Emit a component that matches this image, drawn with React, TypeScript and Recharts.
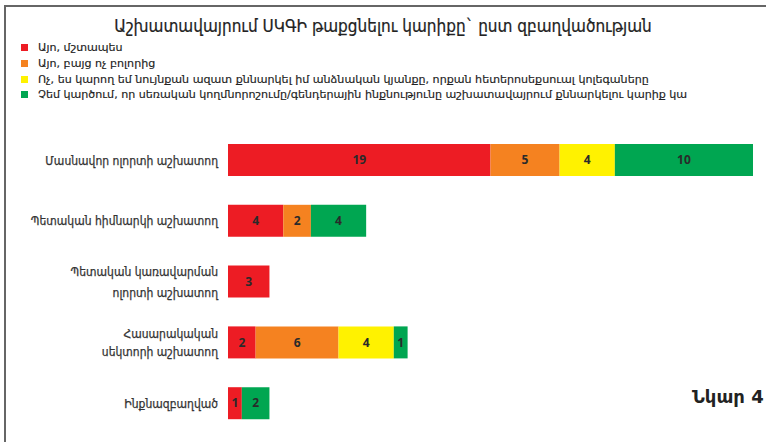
import { Bar, BarChart, LabelList, XAxis, YAxis } from "recharts";

const categories = [
  "Մասնավոր ոլորտի աշխատող",
  "Պետական հիմնարկի աշխատող",
  "Պետական կառավարման\nոլորտի աշխատող",
  "Հասարակական\nսեկտորի աշխատող",
  "Ինքնազբաղված",
];

const seriesNames = [
  "Այո, մշտապես",
  "Այո, բայց ոչ բոլորից",
  "Ոչ, ես կարող եմ նույնքան ազատ քննարկել իմ անձնական կյանքը, որքան հետերոսեքսուալ կոլեգաները",
  "Չեմ կարծում, որ սեռական կողմնորոշումը/գենդերային ինքնությունը աշխատավայրում քննարկելու կարիք կա",
];

const alwaysValues = [19, 4, 3, 2, 1];
const notAllValues = [5, 2, 0, 6, 0];
const freeValues = [4, 0, 0, 4, 0];
const noNeedValues = [10, 4, 0, 1, 2];

const colors = ["#ed1c24", "#f58220", "#fff200", "#00a651"];
const keys = ["always", "notAll", "free", "noNeed"];

const data = categories.map((name, i) => ({
  name,
  always: alwaysValues[i],
  notAll: notAllValues[i],
  free: freeValues[i],
  noNeed: noNeedValues[i],
}));

const labelFont = "'DejaVu Sans', sans-serif";
const condensedFont = "'DejaVu Sans Condensed', 'DejaVu Sans', sans-serif";

function CategoryTick(props: any) {
  const { x, y, payload } = props;
  const lines = String(payload.value).split("\n");
  const gap = lines.length > 1 && payload.value.startsWith("Պետական") ? 21 : 18;
  const start = y - ((lines.length - 1) * gap) / 2;
  return (
    <text
      x={x - 2}
      y={start}
      textAnchor="end"
      fill="#333"
      stroke="#333"
      strokeWidth={0.25}
      fontSize={12}
      fontFamily={condensedFont}
    >
      {lines.map((line, i) => (
        <tspan key={i} x={x - 2} y={start + i * gap} dy="0.35em">
          {line}
        </tspan>
      ))}
    </text>
  );
}

function ValueLabel(props: any) {
  const { x, y, width, height, value } = props;
  if (!value) return null;
  return (
    <text
      x={x + width / 2}
      y={y + height / 2}
      dy="0.35em"
      textAnchor="middle"
      fill="#2a2a2a"
      fontSize={12}
      fontWeight="bold"
      fontFamily="'Open Sans', sans-serif"
    >
      {value}
    </text>
  );
}

export default function App() {
  return (
    <div
      style={{
        position: "fixed",
        left: 0,
        top: 0,
        width: 766,
        height: 442,
        background: "#fff",
        overflow: "hidden",
      }}
    >
      <div
        style={{
          position: "absolute",
          left: 4,
          top: 5,
          width: 762,
          height: 437,
          borderTop: "2px solid #666",
          borderLeft: "2px solid #666",
        }}
      />
      <div
        style={{
          position: "absolute",
          left: 0,
          top: 16,
          width: 766,
          textAlign: "center",
          fontFamily: condensedFont,
          fontSize: 17,
          color: "#222",
          WebkitTextStroke: "0.2px #222",
        }}
      >
        Աշխատավայրում ՍԿԳԻ թաքցնելու կարիքը` ըստ զբաղվածության
      </div>
      <div
        style={{
          position: "absolute",
          left: 21,
          top: 40,
          fontFamily: labelFont,
          fontSize: 11.1,
          color: "#222",
          WebkitTextStroke: "0.15px #222",
        }}
      >
        {seriesNames.map((s, i) => (
          <div key={s} style={{ display: "flex", alignItems: "center", height: 15.7 }}>
            <span style={{ width: 7, height: 7, background: colors[i], marginRight: 10, flexShrink: 0 }} />
            <span style={{ whiteSpace: "nowrap" }}>{s}</span>
          </div>
        ))}
      </div>
      <div style={{ position: "absolute", left: 0, top: 0 }}>
        <BarChart
          width={766}
          height={442}
          data={data}
          layout="vertical"
          margin={{ top: 130, right: 13, bottom: 8, left: 0 }}
          barSize={32}
        >
          <XAxis type="number" domain={[0, 38]} hide />
          <YAxis
            type="category"
            dataKey="name"
            width={228}
            axisLine={false}
            tickLine={false}
            tick={<CategoryTick />}
            interval={0}
          />
          {keys.map((k, i) => (
            <Bar key={k} dataKey={k} stackId="a" fill={colors[i]} isAnimationActive={false}>
              <LabelList dataKey={k} content={<ValueLabel />} />
            </Bar>
          ))}
        </BarChart>
      </div>
      <div
        style={{
          position: "absolute",
          left: 692,
          top: 386,
          fontFamily: labelFont,
          fontSize: 18,
          fontWeight: "bold",
          color: "#222",
          whiteSpace: "nowrap",
        }}
      >
        Նկար 4
      </div>
    </div>
  );
}
